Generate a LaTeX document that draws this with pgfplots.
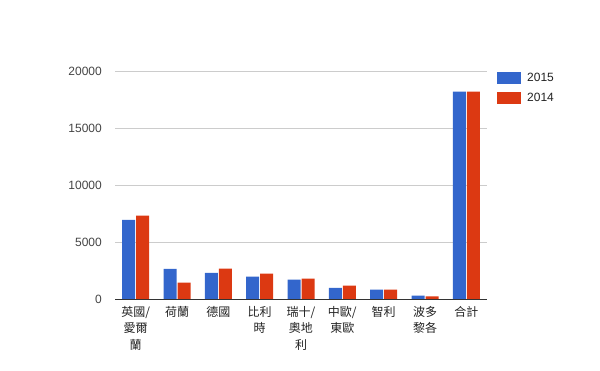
\documentclass[border=0pt]{standalone}
\usepackage{pgfplots}
\pgfplotsset{compat=1.18}
\usepackage{fontspec}
\setmainfont{Liberation Sans}
\newfontfamily\cjk{Noto Sans CJK TC}
\definecolor{gblue}{HTML}{3366CC}
\definecolor{gred}{HTML}{DC3912}
\definecolor{gridc}{HTML}{CCCCCC}
\definecolor{ticktxt}{HTML}{444444}
\definecolor{lbltxt}{HTML}{222222}
\begin{document}
\begin{tikzpicture}[x=1pt,y=1pt]
\path[use as bounding box] (0,0) rectangle (600,371);
\begin{axis}[
  at={(115pt,72pt)}, anchor=south west,
  scale only axis, width=372pt, height=228pt,
  ymin=0, ymax=20000, xmin=-0.5, xmax=8.5,
  ytick={0,5000,10000,15000,20000},
  xtick={0,1,2,3,4,5,6,7,8},
  xticklabels={{英國/\\愛爾\\蘭},{荷蘭},{德國},{比利\\時},{瑞十/\\奧地\\利},{中歐/\\東歐},{智利},{波多\\黎各},{合計}},
  axis x line=bottom, axis y line=left,
  x axis line style={-, draw=black!80, line width=0.8pt},
  y axis line style={draw=none},
  major tick length=0pt,
  ymajorgrids, grid style={gridc, line width=0.6pt},
  /pgf/number format/assume math mode=true,
  /pgf/number format/fixed,
  /pgf/number format/set thousands separator={},
  scaled y ticks=false,
  yticklabel style={font=\fontsize{12}{14}\selectfont, text=ticktxt, inner sep=0pt, xshift=-13pt},
  xticklabel style={font=\cjk\fontsize{12}{16.5}\selectfont, text=lbltxt, align=center, inner sep=0pt, yshift=-7pt},
  ybar=1pt, bar width=13pt,
  legend style={draw=none, fill=none, at={(1,1)}, anchor=north west, xshift=10pt, yshift=0.5pt,
    inner sep=0pt, row sep=6.5pt, font=\fontsize{12}{14}\selectfont, text=lbltxt,
    cells={anchor=west}},
  legend image code/.code={\fill[#1] (0pt,-6pt) rectangle (24pt,6pt); \path (28pt,0pt);},
  legend cell align=left,
]
\addplot[fill=gblue, draw=none] coordinates {(0,6950) (1,2650) (2,2300) (3,1960) (4,1700) (5,980) (6,820) (7,290) (8,18200)};
\addplot[fill=gred, draw=none] coordinates {(0,7320) (1,1430) (2,2660) (3,2220) (4,1790) (5,1170) (6,820) (7,230) (8,18200)};
\legend{2015,2014}
\end{axis}
\end{tikzpicture}
\end{document}
